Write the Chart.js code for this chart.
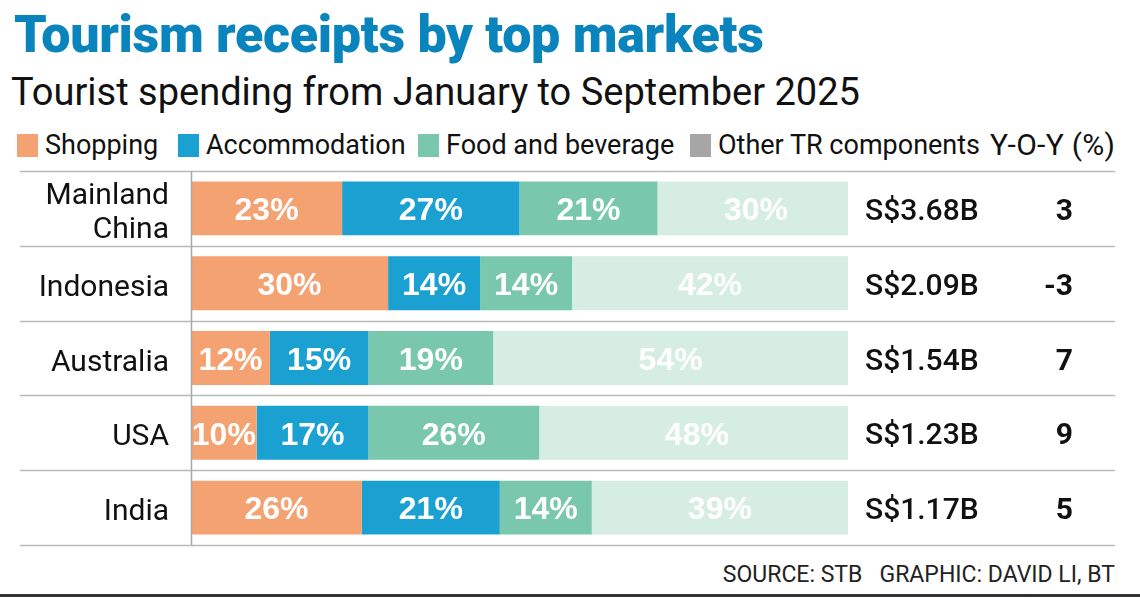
<!DOCTYPE html>
<html>
<head>
<meta charset="utf-8">
<script src="https://cdn.jsdelivr.net/npm/chart.js@4.4.1/dist/chart.umd.min.js"></script>
<style>
  html, body { margin: 0; padding: 0; background: #fff; }
  body { width: 1140px; height: 600px; position: relative; overflow: hidden; font-family: Roboto, "Noto Sans", sans-serif; color: #111; }
  #title { position: absolute; left: 14px; top: 4px; font-size: 52px; font-weight: 900; color: #0a84bd; letter-spacing: -0.3px; white-space: nowrap; }
  #subtitle { position: absolute; left: 11px; top: 70px; font-size: 38px; font-weight: 400; color: #111; white-space: nowrap; }
  #legend { position: absolute; left: 17px; top: 129px; height: 32px; font-size: 27px; white-space: nowrap; }
  #legend span.item { position: absolute; top: 0; display: flex; align-items: center; height: 32px; }
  #legend i { display: inline-block; width: 21px; height: 23px; margin-right: 7px; }
  #yoyhead { position: absolute; top: 129px; left: 990px; font-size: 30px; line-height: 32px; letter-spacing: 0.3px; white-space: nowrap; }
  #source { position: absolute; right: 25px; top: 561px; font-size: 23px; color: #222; white-space: nowrap; }
  #rule { position: absolute; left: 0; right: 0; top: 594px; height: 3px; background: #333; }
  #wrap { position: absolute; left: 0; top: 160px; width: 1140px; height: 400px; }
  #chart { width: 1140px; height: 400px; display: block; }
</style>
</head>
<body>
<div id="title">Tourism receipts by top markets</div>
<div id="subtitle">Tourist spending from January to September 2025</div>
<div id="legend"></div>
<div id="yoyhead">Y-O-Y (%)</div>
<div id="wrap"><canvas id="chart" width="1140" height="400"></canvas></div>
<div id="source">SOURCE: STB&nbsp;&nbsp; GRAPHIC: DAVID LI, BT</div>
<div id="rule"></div>
<script>
var markets = [['Mainland', 'China'], 'Indonesia', 'Australia', 'USA', 'India'];
var shopping = [23, 30, 12, 10, 26];
var accommodation = [27, 14, 15, 17, 21];
var foodBeverage = [21, 14, 19, 26, 14];
var otherTR = [30, 42, 54, 48, 39];
var totals = ['S$3.68B', 'S$2.09B', 'S$1.54B', 'S$1.23B', 'S$1.17B'];
var yoy = ['3', '-3', '7', '9', '5'];

var series = [
    { label: 'Shopping', data: shopping, color: '#f4a272', swatch: '#f4a272', pos: 0 },
    { label: 'Accommodation', data: accommodation, color: '#1ba1d1', swatch: '#1ba1d1', pos: 161 },
    { label: 'Food and beverage', data: foodBeverage, color: '#79c8ae', swatch: '#79c8ae', pos: 401 },
    { label: 'Other TR components', data: otherTR, color: '#d6ede3', swatch: '#a6a6a6', pos: 673 }
];

// legend
var legend = document.getElementById('legend');
series.forEach(function (s) {
    var item = document.createElement('span');
    item.className = 'item';
    item.style.left = s.pos + 'px';
    item.innerHTML = '<i style="background:' + s.swatch + '"></i>' + s.label;
    legend.appendChild(item);
});

// row rules, axis line, segment labels and right-hand columns
var tablePlugin = {
    id: 'tableDecor',
    afterDatasetsDraw: function (chart) {
        var ctx = chart.ctx;
        var area = chart.chartArea;
        var n = markets.length;
        var rowH = (area.bottom - area.top) / n;
        ctx.save();
        ctx.strokeStyle = '#b9b9b9';
        ctx.lineWidth = 1.5;
        for (var i = 0; i <= n; i++) {
            var y = Math.round(area.top + i * rowH) + 0.5;
            ctx.beginPath();
            ctx.moveTo(20, y);
            ctx.lineTo(1115, y);
            ctx.stroke();
        }
        ctx.strokeStyle = '#a8a8a8';
        ctx.beginPath();
        ctx.moveTo(area.left + 0.5, area.top);
        ctx.lineTo(area.left + 0.5, area.bottom);
        ctx.stroke();

        // percentage labels inside the segments
        ctx.fillStyle = '#ffffff';
        ctx.textAlign = 'center';
        ctx.textBaseline = 'middle';
        ctx.font = 'bold 32px "Liberation Sans", Arial, sans-serif';
        chart.data.datasets.forEach(function (ds, di) {
            chart.getDatasetMeta(di).data.forEach(function (el, j) {
                ctx.fillText(ds.data[j] + '%', (el.x + el.base) / 2, el.y + 3);
            });
        });

        // totals and year-on-year change
        var yScale = chart.scales.y;
        ctx.fillStyle = '#111';
        markets.forEach(function (m, j) {
            var y = yScale.getPixelForValue(j);
            ctx.textAlign = 'left';
            ctx.font = '500 30px Roboto, sans-serif';
            ctx.fillText(totals[j], 865, y + 4);
            ctx.textAlign = 'right';
            ctx.font = 'bold 30px Roboto, sans-serif';
            ctx.fillText(yoy[j], 1073, y + 4);
        });
        ctx.restore();
    }
};

var chart = new Chart(document.getElementById('chart'), {
    type: 'bar',
    data: {
        labels: markets,
        datasets: series.map(function (s) {
            return {
                label: s.label,
                data: s.data,
                backgroundColor: s.color,
                borderWidth: 0,
                barPercentage: 0.72,
                categoryPercentage: 1
            };
        })
    },
    options: {
        indexAxis: 'y',
        responsive: false,
        animation: false,
        devicePixelRatio: 1,
        layout: { padding: { top: 11, bottom: 15, left: 0, right: 292 } },
        plugins: { legend: { display: false }, tooltip: { enabled: false } },
        scales: {
            x: { stacked: true, min: 0, max: 100, display: false },
            y: {
                stacked: true,
                border: { display: false },
                grid: { display: false, drawTicks: false },
                ticks: {
                    color: '#111',
                    padding: 22,
                    labelOffset: 5,
                    font: { family: 'Roboto', size: 30, lineHeight: 1.15 }
                },
                afterFit: function (scale) {
                    scale.width = 191;
                    scale.paddingTop = 0;
                    scale.paddingBottom = 0;
                }
            }
        }
    },
    plugins: [tablePlugin]
});
</script>
</body>
</html>
